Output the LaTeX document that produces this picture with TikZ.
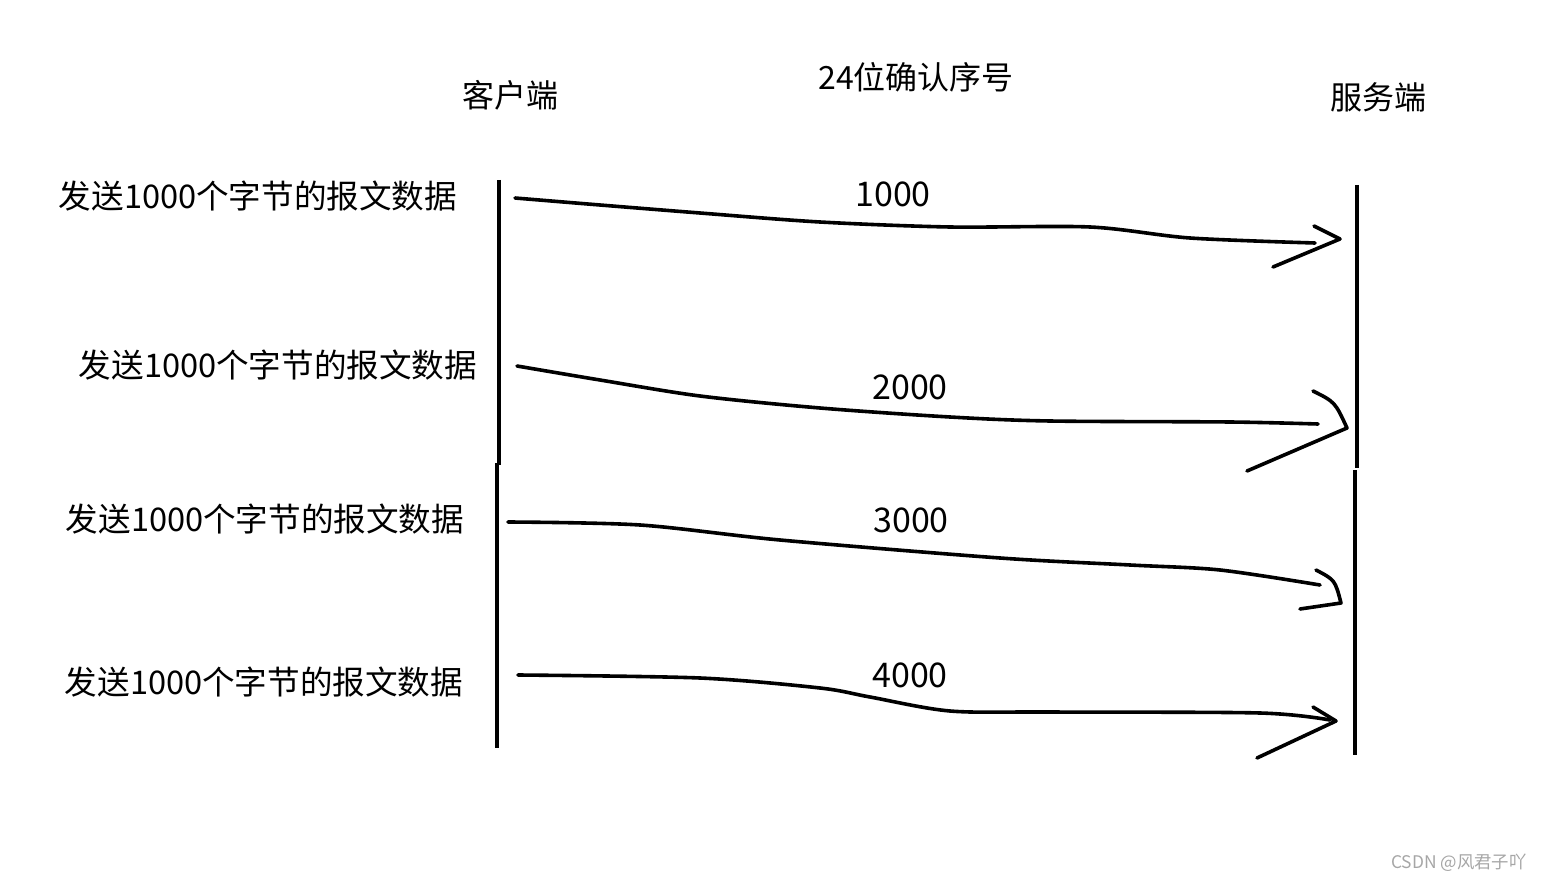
\documentclass[tikz,border=0pt]{standalone}
\usepackage{fontspec}
\setmainfont{Noto Sans CJK SC}
\usepackage{tikz}
\usetikzlibrary{calc}

\begin{document}
\begin{tikzpicture}[x=0.5pt,y=-0.5pt,
  every node/.style={inner sep=0pt},
  side/.style={line width=2.4pt},
  msg/.style={line width=1.8pt,line cap=round,line join=round},
  lbl/.style={font=\fontsize{16.3}{19}\selectfont},
  top/.style={font=\fontsize{16}{19}\selectfont},
  num/.style={font=\fontsize{17}{20}\selectfont}]
\useasboundingbox (0,0) rectangle (1543,882);

% titles
\node[top] (client) at (510,95) {客户端};
\node[top] (seq) at (916,77) {24位确认序号};
\node[top] (server) at (1378,97) {服务端};

% the two sides
\coordinate (c1) at (499,180);
\coordinate (c2) at (499,465);
\coordinate (c3) at (497,463);
\coordinate (c4) at (497,748);
\draw[side] (c1)--(c2);
\draw[side] (c3)--(c4);
\coordinate (s1) at (1357,185);
\coordinate (s2) at (1357,468);
\coordinate (s3) at (1355,470);
\coordinate (s4) at (1355,755);
\draw[side] (s1)--(s2);
\draw[side] (s3)--(s4);

% what is sent
\node[lbl] (send1) at (258,196) {发送1000个字节的报文数据};
\node[lbl] (send2) at (278,365) {发送1000个字节的报文数据};
\node[lbl] (send3) at (265,519) {发送1000个字节的报文数据};
\node[lbl] (send4) at (264,682) {发送1000个字节的报文数据};

\node[num] (n1) at (893,194) {1000};
\node[num] (n2) at (910,387) {2000};
\node[num] (n3) at (911,520) {3000};
\node[num] (n4) at (910,675) {4000};

% arrow 1
\coordinate (a1) at (515,198);
\coordinate (b1) at (1340,239);
\draw[msg] plot[smooth] coordinates {(a1) (600,205) (700,213) (820,222) (950,227) (1090,227) (1190,238) (1315,243)};
\draw[msg] (1314,226) -- (b1) -- (1273,267);

% arrow 2
\coordinate (a2) at (517,366);
\coordinate (b2) at (1347,428);
\draw[msg] plot[smooth] coordinates {(a2) (600,380) (700,396) (820,408) (950,417) (1050,421) (1230,422) (1318,424)};
\draw[msg] (1313,391) .. controls (1335,402) .. (b2) -- (1247,471);

% arrow 3
\coordinate (a3) at (508,522);
\coordinate (b3) at (1341,603);
\draw[msg] plot[smooth] coordinates {(a3) (640,525) (780,540) (1000,558) (1130,565) (1220,570) (1320,585)};
\draw[msg] (1316,570) .. controls (1335,580) .. (b3) -- (1300,609);

% arrow 4
\coordinate (a4) at (518,675);
\coordinate (b4) at (1336,721);
\draw[msg] plot[smooth] coordinates {(a4) (700,678) (820,688) (870,697) (950,711) (1050,712) (1260,713) (1330,720)};
\draw[msg] (1313,707) -- (b4) -- (1257,758);

% watermark
\node[font=\fontsize{8.7}{10}\selectfont,text=black!35] (mark) at (1459,863) {CSDN @风君子吖};
\end{tikzpicture}
\end{document}
